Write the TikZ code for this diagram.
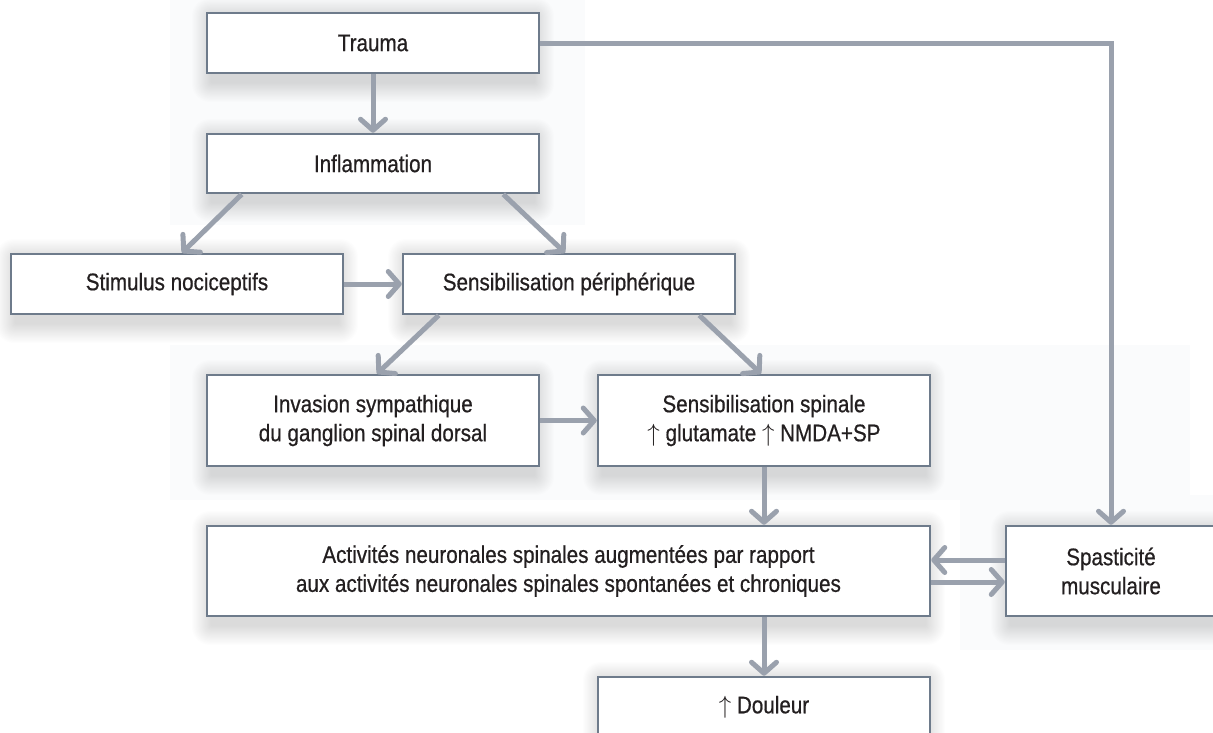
\documentclass[tikz,border=0pt]{standalone}
\usepackage{fontspec}
\setmainfont{Liberation Sans}[FakeStretch=0.86,FakeBold=0.6]
\usetikzlibrary{arrows.meta,calc,backgrounds}
\definecolor{boxline}{HTML}{6E7B8B}
\definecolor{arrowgray}{HTML}{9AA1AD}
\definecolor{txt}{HTML}{231F20}
\definecolor{panel}{HTML}{FAFBFC}
\tikzset{
  flowbox/.style={draw=boxline, line width=2.5pt, fill=white, inner sep=0pt,
    align=center, text=txt, font=\fontsize{24}{29}\selectfont},
  arr/.style={draw=arrowgray, line width=5pt,
    -{Straight Barb[length=11pt,width=25pt,line cap=round,line join=round]}},
}
\newcommand{\softshade}[1]{%
  \foreach \k in {1,...,18}{%
    \fill[black,opacity=0.009,rounded corners=\k pt]
      ([shift={(-1.1*\k pt+6pt,-8pt-1.1*\k pt)}]#1.south west) rectangle
      ([shift={(1.1*\k pt-6pt,-6pt+1.1*\k pt)}]#1.north east);
  }}
\begin{document}
\begin{tikzpicture}[x=1pt,y=-1pt]
\useasboundingbox (0,0) rectangle (1213,732);
\clip (0,0) rectangle (1213,732);

\node[flowbox, minimum width=332pt, minimum height=60pt] (trauma) at (373,43) {Trauma};
\node[flowbox, minimum width=332pt, minimum height=59pt] (infl) at (373,163.5) {Inflammation};
\node[flowbox, minimum width=332pt, minimum height=60pt] (stim) at (177,284) {Stimulus nociceptifs};
\node[flowbox, minimum width=332pt, minimum height=60pt] (periph) at (569,284) {Sensibilisation périphérique};
\node[flowbox, minimum width=332pt, minimum height=91pt] (invas) at (373,420.5) {Invasion sympathique\\du ganglion spinal dorsal};
\node[flowbox, minimum width=332pt, minimum height=91pt] (spin) at (764,420.5) {Sensibilisation spinale\\$\uparrow$ glutamate $\uparrow$ NMDA+SP};
\node[flowbox, minimum width=723pt, minimum height=90pt] (activ) at (568.5,571) {Activités neuronales spinales augmentées par rapport\\aux activités neuronales spinales spontanées et chroniques};
\node[flowbox, minimum width=210pt, minimum height=90pt] (spas) at (1111,571) {Spasticité\\musculaire};
\node[flowbox, minimum width=332pt, minimum height=60pt] (doul) at (764,707) {$\uparrow$ Douleur};

\begin{scope}[on background layer]
  \fill[white] (0,0) rectangle (1213,732);
  \fill[panel] (170,0) rectangle (585,225);
  \fill[panel] (960,495) rectangle (1213,650);
  \fill[panel] (170,345) rectangle (1190,500);
  \foreach \n in {trauma,infl,stim,periph,invas,spin,activ,spas,doul}{\softshade{\n}}
\end{scope}

\draw[arr] (trauma.south) -- (infl.north);
\draw[arr] (trauma.east) -| (spas.north);
\draw[arr] ($(infl.south west)+(36,0)$) -- ($(stim.north)+(5,0)$);
\draw[arr] ($(infl.south east)+(-37,0)$) -- ($(periph.north)+(-4,0)$);
\draw[arr] (stim.east) -- (periph.west);
\draw[arr] ($(periph.south west)+(37,0)$) -- ($(invas.north)+(4,0)$);
\draw[arr] ($(periph.south east)+(-37,0)$) -- ($(spin.north)+(-3,0)$);
\draw[arr] (invas.east) -- (spin.west);
\draw[arr] (spin.south) -- (spin.south |- activ.north);
\draw[arr] ([yshift=11pt]spas.west) -- ([yshift=11pt]activ.east);
\draw[arr] ([yshift=-11pt]activ.east) -- ([yshift=-11pt]spas.west);
\draw[arr] (doul.north |- activ.south) -- (doul.north);
\end{tikzpicture}
\end{document}
